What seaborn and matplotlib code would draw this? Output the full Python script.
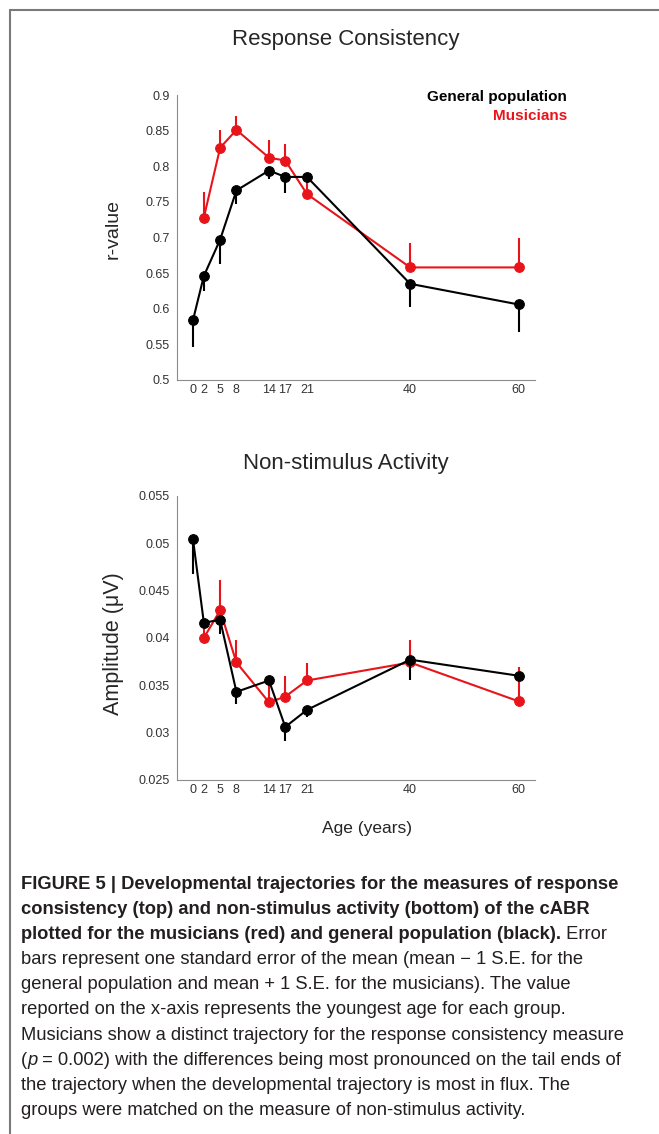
import numpy as np
import pandas as pd
import seaborn as sns
import matplotlib.pyplot as plt
from matplotlib.lines import Line2D
from matplotlib import font_manager

sns.set_theme(style='white')
plt.rcParams['font.family'] = ['Liberation Sans', 'DejaVu Sans']

# data
age_ticks = [0, 2, 5, 8, 14, 17, 21, 40, 60]
gen_ages = [0, 2, 5, 8, 14, 17, 21, 40, 60]
mus_ages = [2, 5, 8, 14, 17, 21, 40, 60]

# response consistency (r-value), error = 1 S.E.
gen_r = [0.584, 0.646, 0.697, 0.766, 0.794, 0.785, 0.785, 0.635, 0.606]
gen_r_se = [0.037, 0.021, 0.034, 0.019, 0.012, 0.023, 0.004, 0.032, 0.039]
mus_r = [0.728, 0.826, 0.851, 0.812, 0.808, 0.761, 0.658, 0.658]
mus_r_se = [0.036, 0.025, 0.019, 0.025, 0.023, 0.022, 0.034, 0.041]

# non-stimulus activity (uV)
gen_amp = [0.0504, 0.0416, 0.0419, 0.0343, 0.0355, 0.0306, 0.0324, 0.0377, 0.0360]
gen_amp_se = [0.0037, 0.0005, 0.0015, 0.0013, 0.0005, 0.0015, 0.0008, 0.0021, 0.0003]
mus_amp = [0.0400, 0.0429, 0.0374, 0.0332, 0.0338, 0.0355, 0.0374, 0.0333]
mus_amp_se = [0.0010, 0.0032, 0.0024, 0.0020, 0.0022, 0.0018, 0.0024, 0.0036]

r_ticks = [0.5, 0.55, 0.6, 0.65, 0.7, 0.75, 0.8, 0.85, 0.9]
amp_ticks = [0.025, 0.03, 0.035, 0.04, 0.045, 0.05, 0.055]

RED = '#e8141a'
W, H = 659, 1134
fig = plt.figure(figsize=(W / 100, H / 100), dpi=100)


def px(x, y):
    return x / W, 1 - y / H


def panel(rect, gen_y, gen_se, mus_y, mus_se, yticks):
    ax = fig.add_axes(rect)
    gen_y = np.array(gen_y); gen_se = np.array(gen_se)
    mus_y = np.array(mus_y); mus_se = np.array(mus_se)
    # musicians: mean + 1 SE, general population: mean - 1 SE
    ax.vlines(mus_ages, mus_y, mus_y + mus_se, color=RED, lw=1.5, zorder=2)
    sns.lineplot(x=mus_ages, y=mus_y, ax=ax, color=RED, lw=1.5, marker='o',
                 markersize=7, markeredgecolor=RED, zorder=3)
    ax.vlines(gen_ages, gen_y - gen_se, gen_y, color='black', lw=1.5, zorder=4)
    sns.lineplot(x=gen_ages, y=gen_y, ax=ax, color='black', lw=1.5, marker='o',
                 markersize=7, markeredgecolor='black', zorder=5)
    ax.set_xlim(-3, 63)
    ax.set_ylim(yticks[0], yticks[-1])
    ax.set_xticks(age_ticks)
    ax.set_xticklabels([str(a) for a in age_ticks])
    ax.set_yticks(yticks)
    ax.set_yticklabels(['%g' % t for t in yticks])
    for s in ['top', 'right']:
        ax.spines[s].set_visible(False)
    for s in ['left', 'bottom']:
        ax.spines[s].set_color('#8c8c8c')
        ax.spines[s].set_linewidth(0.8)
    ax.tick_params(axis='x', direction='in', length=4, width=0.8, color='#8c8c8c',
                   labelsize=9, labelcolor='#333333', pad=3)
    ax.tick_params(axis='y', direction='out', length=3, width=0.8, color='#8c8c8c',
                   labelsize=9, labelcolor='#333333', pad=2)
    ax.set_xlabel('')
    ax.set_ylabel('')
    return ax


ax1 = panel([176.7 / W, 1 - 380 / H, (535 - 176.7) / W, 285 / H],
            gen_r, gen_r_se, mus_r, mus_r_se, r_ticks)
ax2 = panel([176.7 / W, 1 - 780 / H, (535 - 176.7) / W, 284.3 / H],
            gen_amp, gen_amp_se, mus_amp, mus_amp_se, amp_ticks)

# titles and labels
fig.text(*px(346, 40), 'Response Consistency', fontsize=16, ha='center', va='center')
fig.text(*px(346, 464), 'Non-stimulus Activity', fontsize=16, ha='center', va='center')
fig.text(*px(113, 229), 'r-value', fontsize=14, rotation=90, ha='center', va='center')
fig.text(*px(113, 644), 'Amplitude (\u03bcV)', fontsize=15.5, rotation=90, ha='center', va='center')
fig.text(*px(367, 828), 'Age (years)', fontsize=12.5, ha='center', va='center')

# legend text
fig.text(*px(567, 97), 'General population', fontsize=11, fontweight='bold',
         ha='right', va='center', color='black')
fig.text(*px(567, 116), 'Musicians', fontsize=11, fontweight='bold',
         ha='right', va='center', color=RED)

# frame lines
fig.add_artist(Line2D([10 / W, 1], [1 - 10 / H] * 2, transform=fig.transFigure,
                      color='#7a7a7a', lw=1.5))
fig.add_artist(Line2D([10 / W] * 2, [0, 1 - 10 / H], transform=fig.transFigure,
                      color='#7a7a7a', lw=1.5))

# caption
names = {f.name for f in font_manager.fontManager.ttflist}
cap_font = 'Liberation Sans Narrow' if 'Liberation Sans Narrow' in names else 'Liberation Sans'

cap_lines = [
    [('FIGURE 5 | Developmental trajectories for the measures of response', 'bold', 'normal')],
    [('consistency (top) and non-stimulus activity (bottom) of the cABR', 'bold', 'normal')],
    [('plotted for the musicians (red) and general population (black).', 'bold', 'normal'),
     (' Error', 'normal', 'normal')],
    [('bars represent one standard error of the mean (mean \u2212 1 S.E. for the', 'normal', 'normal')],
    [('general population and mean + 1 S.E. for the musicians). The value', 'normal', 'normal')],
    [('reported on the x-axis represents the youngest age for each group.', 'normal', 'normal')],
    [('Musicians show a distinct trajectory for the response consistency measure', 'normal', 'normal')],
    [('(', 'normal', 'normal'), ('p', 'normal', 'italic'),
     (' = 0.002) with the differences being most pronounced on the tail ends of', 'normal', 'normal')],
    [('the trajectory when the developmental trajectory is most in flux. The', 'normal', 'normal')],
    [('groups were matched on the measure of non-stimulus activity.', 'normal', 'normal')],
]

base_size = 12
cap_texts = []
first_texts = []
for i, segs in enumerate(cap_lines):
    y = 889 + 25.1 * i
    prev = None
    for txt, wt, st in segs:
        if prev is None:
            t = fig.text(*px(21, y), txt, fontsize=base_size, fontweight=wt, fontstyle=st,
                         family=cap_font, color='#231f20', ha='left', va='baseline')
            first_texts.append(t)
        else:
            # continue the line right after the previous piece
            t = plt.annotate(txt, xy=(1, 0), xycoords=prev, fontsize=base_size,
                             fontweight=wt, fontstyle=st, family=cap_font,
                             color='#231f20', ha='left', va='bottom',
                             annotation_clip=False)
        cap_texts.append(t)
        prev = t

# fit caption size so the longest line spans the measured width
fig.canvas.draw()
r = fig.canvas.get_renderer()
w7 = first_texts[6].get_window_extent(r).width
scale = (625 - 21) / w7
for t in cap_texts:
    t.set_fontsize(base_size * scale)

fig.savefig('out.png', dpi=100, facecolor='white')
